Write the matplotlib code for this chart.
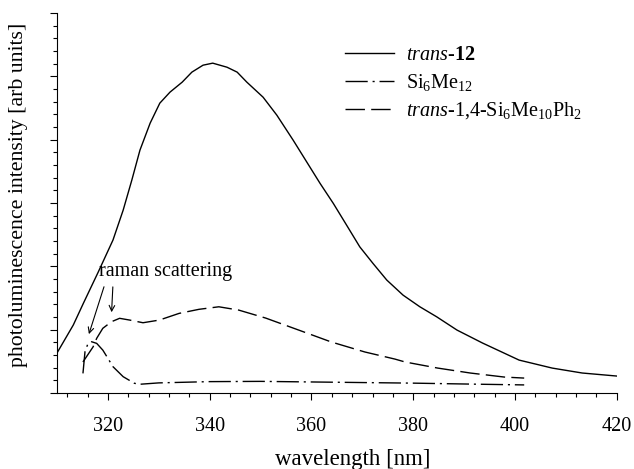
import matplotlib
matplotlib.use("Agg")
import matplotlib.pyplot as plt
from matplotlib.ticker import MultipleLocator, NullFormatter

plt.rcParams['font.family'] = ['Liberation Serif', 'DejaVu Serif']
plt.rcParams['mathtext.fontset'] = 'custom'
plt.rcParams['mathtext.rm'] = 'Liberation Serif'
plt.rcParams['mathtext.it'] = 'Liberation Serif:italic'
plt.rcParams['mathtext.bf'] = 'Liberation Serif:bold'
plt.rcParams['lines.scale_dashes'] = False

# trans-12
wl_trans12 = [310.0, 313.2, 315.2, 318.1, 321.0, 323.0, 324.7, 326.3, 328.3, 330.2,
              332.2, 334.6, 336.5, 338.7, 340.6, 343.4, 345.4, 347.3, 350.5, 353.2,
              356.4, 359.7, 361.7, 364.3, 366.9, 369.5, 372.1, 374.8, 378.0, 381.3,
              384.6, 388.6, 393.6, 400.8, 407.3, 413.2, 420.0]
int_trans12 = [3.16, 5.37, 7.10, 9.55, 12.08, 14.44, 16.81, 19.18, 21.31, 22.89,
               23.76, 24.55, 25.34, 25.89, 26.05, 25.73, 25.34, 24.55, 23.36, 21.94,
               19.97, 17.84, 16.55, 14.97, 13.26, 11.54, 10.23, 8.92, 7.73, 6.81,
               6.02, 4.97, 3.95, 2.60, 1.97, 1.58, 1.34]

# Si6Me12
wl_si6me12 = [315.1, 315.5, 316.1, 316.8, 317.8, 319.0, 320.0, 321.0, 323.0, 325.2,
              326.2, 330.0, 340.0, 350.0, 365.0, 380.0, 392.0, 401.8]
int_si6me12 = [1.55, 3.26, 3.92, 4.05, 3.92, 3.39, 2.74, 2.08, 1.29, 0.77,
               0.69, 0.80, 0.90, 0.92, 0.85, 0.78, 0.70, 0.64]

# trans-1,4-Si6Me10Ph2
wl_ph2 = [315.1, 317.1, 317.8, 319.0, 320.7, 322.3, 324.3, 326.9, 330.1, 334.0,
          337.9, 341.8, 345.7, 351.0, 357.5, 363.9, 370.5, 376.4, 378.4, 384.8,
          391.2, 397.9, 401.8]
int_ph2 = [2.45, 3.65, 4.32, 5.11, 5.63, 5.90, 5.76, 5.55, 5.76, 6.29,
           6.61, 6.81, 6.55, 5.92, 4.97, 4.03, 3.24, 2.68, 2.45, 1.97,
           1.58, 1.26, 1.18]

fig = plt.figure(figsize=(6.34, 4.69), dpi=100)
ax = fig.add_axes([0.0899, 0.162, 0.883, 0.81])

ax.plot(wl_trans12, int_trans12, color='black', lw=1.0,
        label=r'$\mathit{trans}$-$\mathbf{12}$')
ax.plot(wl_si6me12, int_si6me12, color='black', lw=1.0,
        dashes=(16, 3.5, 1.5, 3.5), label=r'Si$_6$Me$_{12}$')
ax.plot(wl_ph2, int_ph2, color='black', lw=1.0, dashes=(14, 4.5),
        label=r'$\mathit{trans}$-1,4-Si$_6$Me$_{10}$Ph$_2$')

ax.set_xlim(310, 420)
ax.set_ylim(0, 30)
ax.spines['top'].set_visible(False)
ax.spines['right'].set_visible(False)
ax.xaxis.set_major_locator(MultipleLocator(20))
ax.xaxis.set_minor_locator(MultipleLocator(4))
ax.yaxis.set_major_locator(MultipleLocator(5))
ax.yaxis.set_minor_locator(MultipleLocator(1))
ax.yaxis.set_major_formatter(NullFormatter())
ax.tick_params(which='major', direction='out', length=5, width=0.8, labelsize=14.5)
ax.tick_params(which='minor', direction='out', length=3, width=0.8)
ax.tick_params(axis='x', pad=12)

ax.set_xlabel('wavelength [nm]', fontsize=16.5)
ax.xaxis.set_label_coords(0.529, -0.148)
ax.set_ylabel('photoluminescence intensity [arb units]', fontsize=15.7)
ax.yaxis.set_label_coords(-0.052, 0.521)

ax.annotate('', xy=(316.1, 4.44), xytext=(319.4, 8.6),
            arrowprops=dict(arrowstyle='->', color='black', lw=0.8))
ax.annotate('', xy=(320.7, 6.16), xytext=(321.0, 8.6),
            arrowprops=dict(arrowstyle='->', color='black', lw=0.8))
ax.text(318.3, 9.6, 'raman scattering', fontsize=14.5, va='center', ha='left')

ax.legend(loc='upper left', bbox_to_anchor=(0.496, 0.94), frameon=False,
          fontsize=14.5, handlelength=2.45, handletextpad=0.6, labelspacing=0.35,
          borderpad=0)

fig.savefig('out.png', dpi=100)
